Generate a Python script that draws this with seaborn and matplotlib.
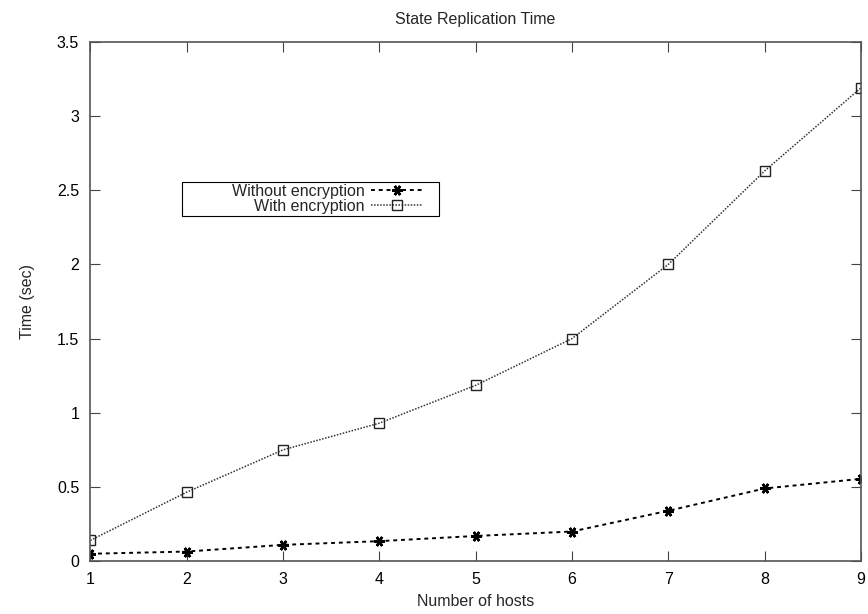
import matplotlib
matplotlib.use("Agg")
import matplotlib.pyplot as plt
from matplotlib.patches import Rectangle
from matplotlib.ticker import FuncFormatter, MultipleLocator
import pandas as pd
import seaborn as sns

hosts = [1, 2, 3, 4, 5, 6, 7, 8, 9]
without_enc = [0.05, 0.065, 0.11, 0.135, 0.17, 0.20, 0.34, 0.49, 0.555]
with_enc = [0.14, 0.465, 0.75, 0.93, 1.185, 1.50, 2.0, 2.63, 3.19]
series_names = ["Without encryption", "With encryption"]

df_without = pd.DataFrame({"hosts": hosts, "time": without_enc})
df_with = pd.DataFrame({"hosts": hosts, "time": with_enc})

sns.set_style("ticks")
plt.rcParams['font.family'] = ['Liberation Sans', 'DejaVu Sans']
fs = 11.5

fig = plt.figure(figsize=(8.68, 6.14), dpi=100)
ax = fig.add_axes([0.104, 0.086, 0.888, 0.846])

# without encryption: dashed, asterisk markers
sns.lineplot(data=df_without, x="hosts", y="time", color="black",
             marker=(6, 2, 90), markersize=7.5, markeredgewidth=1.8,
             markeredgecolor="black",
             linestyle=(0, (2, 2)), linewidth=1.4, ax=ax, label=series_names[0])
# with encryption: dotted, open squares
sns.lineplot(data=df_with, x="hosts", y="time", color="#333333",
             marker="s", markersize=7, markerfacecolor="none", markeredgewidth=1.0,
             markeredgecolor="#222222",
             linestyle=(0, (1, 1)), linewidth=1.1, ax=ax, label=series_names[1])
lines = ax.get_lines()

ax.set_xlim(1, 9)
ax.set_ylim(0, 3.5)
ax.xaxis.set_major_locator(MultipleLocator(1))
ax.yaxis.set_major_locator(MultipleLocator(0.5))
ax.yaxis.set_major_formatter(FuncFormatter(lambda v, p: "%g" % v))
ax.tick_params(direction="in", top=True, right=True, length=7, width=0.8,
               colors="#444444", labelcolor="black", labelsize=fs, pad=8)
for s in ax.spines.values():
    s.set_color("#555555")
    s.set_linewidth(1.2)

ax.set_xlabel("Number of hosts", fontsize=fs, labelpad=5)
ax.set_ylabel("Time (sec)", fontsize=fs, labelpad=16)
ax.set_title("State Replication Time", fontsize=fs, pad=13)

# gnuplot-style key: right aligned text, sample to the right, wide box
ax.add_patch(Rectangle((0.119, 0.665), 0.334, 0.065, transform=ax.transAxes,
                       fill=False, edgecolor="black", linewidth=0.8, zorder=4))
leg = ax.legend(lines[:2], series_names, loc="center right", bbox_to_anchor=(0.453, 0.6975),
                markerfirst=False, frameon=False,
                handlelength=3.3, handletextpad=0.4, labelspacing=0.0,
                borderpad=1.0, borderaxespad=0, fontsize=fs)

fig.savefig("out.png", dpi=100)
